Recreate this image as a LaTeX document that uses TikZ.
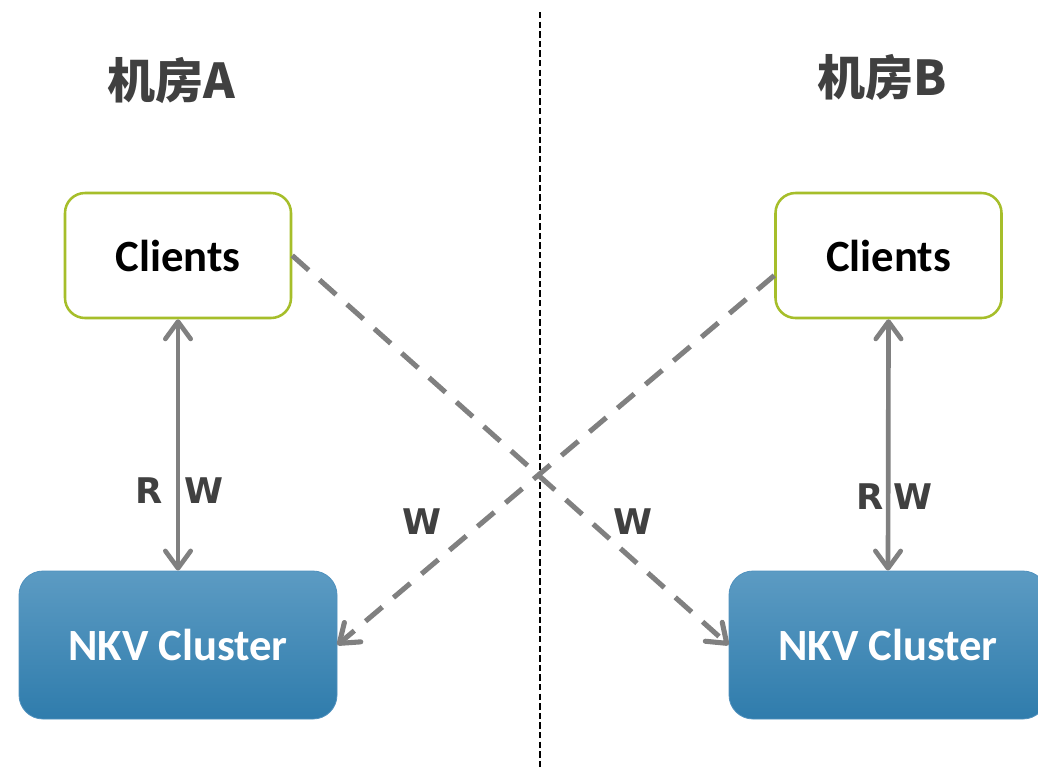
\documentclass[tikz,border=0pt]{standalone}
\usepackage{fontspec}
\setmainfont{Carlito}
\newfontfamily\cjk{Noto Sans CJK SC}
\newfontfamily\dv{DejaVu Sans}
\usetikzlibrary{arrows.meta}
\definecolor{clientgreen}{RGB}{166,190,42}
\definecolor{nkvtop}{RGB}{92,155,195}
\definecolor{nkvbot}{RGB}{47,124,172}
\definecolor{nkvedge}{RGB}{80,145,190}
\definecolor{arrgray}{RGB}{128,128,128}
\definecolor{txtgray}{RGB}{64,64,64}
\tikzset{
  client/.style={draw=clientgreen, line width=1.9pt, fill=white, rounded corners=15pt,
    minimum width=169.5pt, minimum height=93.75pt, inner sep=0pt,
    font=\fontsize{33.5pt}{40pt}\selectfont\bfseries, text=black},
  nkv/.style={draw=nkvedge, line width=0.6pt, rounded corners=18pt,
    top color=nkvtop, bottom color=nkvbot,
    minimum width=238.5pt, minimum height=111pt, inner sep=0pt,
    font=\fontsize{33.5pt}{40pt}\selectfont\bfseries, text=white},
  title/.style={font=\cjk\fontsize{36pt}{42pt}\selectfont\bfseries, text=txtgray, inner sep=0pt},
  lbl/.style={font=\dv\fontsize{26.5pt}{30pt}\selectfont\bfseries, text=txtgray, inner sep=0pt},
  barb/.tip={Straight Barb[length=13pt, width=19pt, line cap=round, line join=round]},
  rwline/.style={draw=arrgray, line width=3.5pt, {barb}-{barb}},
  wline/.style={draw=arrgray, line width=3.8pt, dash pattern=on 16.5pt off 11pt, -{barb}},
  divider/.style={draw=black, line width=1.6pt, dash pattern=on 4.8pt off 2.4pt}
}
\begin{document}
\begin{tikzpicture}[x=0.75pt,y=-0.75pt]
\useasboundingbox[fill=white] (0,0) rectangle (1038,769);
\begin{scope}
\clip (0,0) rectangle (1038,769);
% divider
\coordinate (dtop) at (540,12);
\coordinate (dbot) at (540,769);
\draw[divider] (dtop) -- (dbot);
% titles
\node[title] (tA) at (171,81) {机房A};
\node[title] (tB) at (882,78) {机房B};
% boxes
\node[client] (cA) at (178,255.5) {Clients};
\node[client] (cB) at (888.5,255.5) {Clients};
\node[nkv] (nA) at (178,645) {NKV Cluster};
\node[nkv] (nB) at (888,645) {NKV Cluster};
% connectors
\draw[rwline] (cA.south) -- (nA.north);
\draw[rwline] (cB.south) -- (nB.north);
\draw[wline] (cA.east) -- (nB.west);
\draw[wline] ([yshift=-15pt]cB.west) -- (nA.east);
% labels
\node[lbl] (rA) at (149,491) {R};
\node[lbl] (wA) at (204,491) {W};
\node[lbl] (rB) at (870,497) {R};
\node[lbl] (wB) at (913,497) {W};
\node[lbl] (wX1) at (422,522) {W};
\node[lbl] (wX2) at (633,522) {W};
\end{scope}
\end{tikzpicture}
\end{document}
